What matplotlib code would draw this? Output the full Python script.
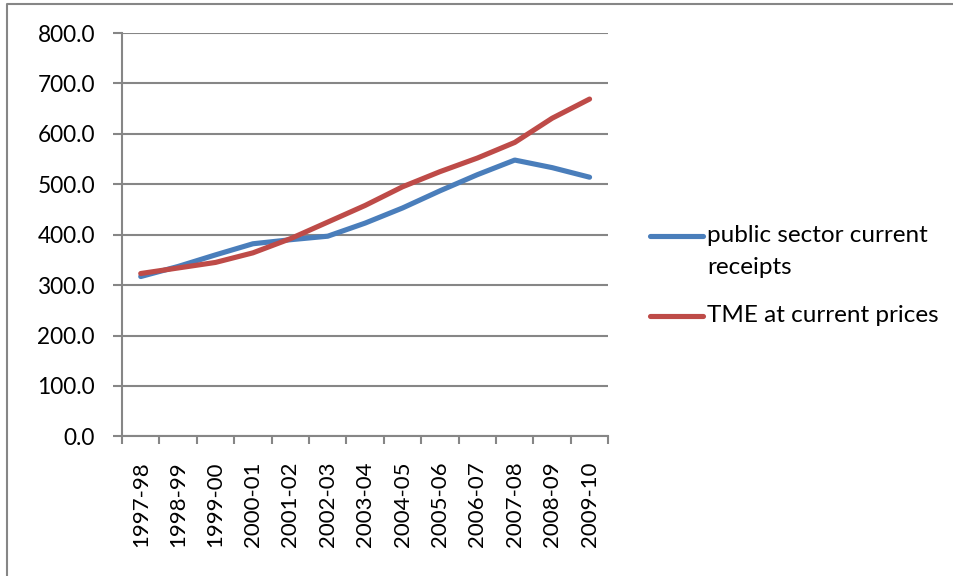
import matplotlib
matplotlib.use('Agg')
import matplotlib.pyplot as plt
from matplotlib.lines import Line2D
import numpy as np

plt.rcParams['font.family'] = ['Lato', 'DejaVu Sans']

years = ['1997-98', '1998-99', '1999-00', '2000-01', '2001-02', '2002-03', '2003-04',
         '2004-05', '2005-06', '2006-07', '2007-08', '2008-09', '2009-10']
receipts = [317, 337, 360, 382, 390, 397, 423, 453, 487, 519, 548, 533, 514]
tme = [323, 334, 345, 364, 392, 425, 458, 495, 525, 552, 583, 631, 669]
series_names = ['public sector current\nreceipts', 'TME at current prices']

colors = ['#4a7ebb', '#be4b48']
grey = '#868686'

fig = plt.figure(figsize=(9.54, 5.76), dpi=100)
ax = fig.add_axes([0.1279, 0.2424, 0.5097, 0.7003])

x = np.arange(len(years))
ax.plot(x, receipts, color=colors[0], lw=3.7, solid_capstyle='round', solid_joinstyle='round')
ax.plot(x, tme, color=colors[1], lw=3.7, solid_capstyle='round', solid_joinstyle='round')

ax.set_xlim(-0.5, len(years) - 0.5)
ax.set_ylim(0, 800)
ax.set_yticks(np.arange(0, 801, 100))
ax.set_yticklabels(['%.1f' % v for v in np.arange(0, 801, 100)])
ax.yaxis.grid(True, color=grey, lw=1.5)
ax.set_axisbelow(True)

# category labels at centres, tick marks between categories
ax.set_xticks(x)
ax.set_xticklabels(years, rotation=90, va='top', ha='center')
ax.set_xticks(np.arange(-0.5, len(years)), minor=True)
ax.tick_params(axis='x', which='major', length=0, pad=18, labelsize=16)
ax.tick_params(axis='x', which='minor', length=6, width=1.5, color=grey, direction='out')
ax.tick_params(axis='y', length=6.5, width=1.5, color=grey, pad=13, labelsize=16.3)

for s in ['top', 'right']:
    ax.spines[s].set_visible(False)
for s in ['left', 'bottom']:
    ax.spines[s].set_color(grey)
    ax.spines[s].set_linewidth(1.5)

# legend drawn by hand so the handle sits on the first text line
W, H = 954.0, 576.0
legend_rows = [(236, series_names[0]), (316, series_names[1])]
for (ypx, name), c in zip(legend_rows, colors):
    fig.add_artist(Line2D([650 / W, 703 / W], [1 - ypx / H, 1 - ypx / H],
                          color=c, lw=3.7, solid_capstyle='round'))
    fig.text(707 / W, 1 - (ypx - 11) / H, name, fontsize=17.5, va='top', ha='left',
             linespacing=1.65)

# chart border
fig.add_artist(Line2D([7 / W, 7 / W, 1], [0, 1 - 4 / H, 1 - 4 / H], color=grey, lw=1.5))

fig.savefig('out.png', dpi=100)
